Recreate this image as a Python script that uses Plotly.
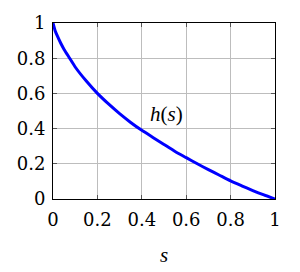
import plotly.graph_objects as go

s_vals = [0.0, 0.01, 0.02, 0.035, 0.05, 0.075, 0.1, 0.15, 0.2, 0.25, 0.3, 0.35, 0.4, 0.45, 0.5,
          0.55, 0.6, 0.65, 0.7, 0.75, 0.8, 0.85, 0.9, 0.95, 1.0]
h_vals = [1.0, 0.955, 0.925, 0.885, 0.85, 0.80, 0.75, 0.67, 0.60, 0.54, 0.485, 0.435, 0.39, 0.35, 0.31,
          0.27, 0.235, 0.20, 0.167, 0.135, 0.103, 0.075, 0.048, 0.023, 0.0]
tick_vals = [0, 0.2, 0.4, 0.6, 0.8, 1]
tick_text = ["0", "0.2", "0.4", "0.6", "0.8", "1"]

font = dict(family="DejaVu Serif", size=18, color="black")
ital_font = dict(family="Liberation Serif", size=21, color="black")

fig = go.Figure()
fig.add_trace(go.Scatter(x=s_vals, y=h_vals, mode="lines",
                         line=dict(color="#0000ff", width=3, shape="spline", smoothing=0.6),
                         showlegend=False, hoverinfo="skip"))

axis_common = dict(range=[0, 1], tickvals=tick_vals, ticktext=tick_text,
                   showgrid=True, gridcolor="#bdbdbd", gridwidth=1,
                   showline=True, linecolor="black", linewidth=1, mirror="allticks",
                   ticks="inside", ticklen=4, tickcolor="#555555", tickwidth=1,
                   zeroline=False, tickfont=font, fixedrange=True)

fig.update_xaxes(**axis_common, ticklabelstandoff=4)
fig.update_yaxes(**axis_common, ticklabelstandoff=3)

fig.add_annotation(x=0.51, y=0.485, xref="x", yref="y", text="<i>h</i>(<i>s</i>)",
                   showarrow=False, font=ital_font)
fig.add_annotation(x=0.5, y=0, xref="paper", yref="paper", text="<i>s</i>",
                   showarrow=False, font=ital_font, yanchor="middle", yshift=-56)

fig.update_layout(width=300, height=272, margin=dict(l=53, r=25, t=15, b=73),
                  paper_bgcolor="white", plot_bgcolor="white", font=font)

fig.write_html("out.html", config={"displayModeBar": False},
               post_script="document.body.style.margin='0';document.body.style.overflow='hidden';")
